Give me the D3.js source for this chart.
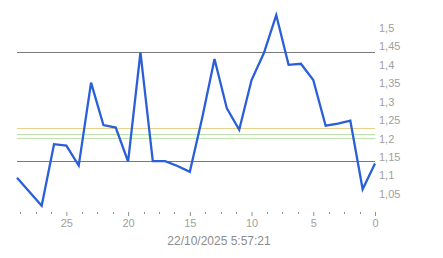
<!DOCTYPE html>
<html>
<head>
<meta charset="utf-8">
<script src="https://cdn.jsdelivr.net/npm/d3@7"></script>
<style>
  body { margin: 0; background: #fff; }
  svg text { font-family: "Liberation Sans", Arial, sans-serif; font-size: 11px; fill: #a0a0a0; }
</style>
</head>
<body>
<svg id="chart"></svg>
<script>
// data, oldest first (29 periods ago -> now)
let periods = [29, 28, 27, 26, 25, 24, 23, 22, 21, 20, 19, 18, 17, 16, 15, 14, 13, 12, 11, 10, 9, 8, 7, 6, 5, 4, 3, 2, 1, 0]
let values = [1.094, 1.056, 1.018, 1.185, 1.181, 1.127, 1.352, 1.237, 1.230, 1.138,
              1.434, 1.139, 1.139, 1.126, 1.110, 1.256, 1.416, 1.282, 1.224, 1.359,
              1.432, 1.535, 1.400, 1.403, 1.359, 1.235, 1.241, 1.249, 1.063, 1.133]

let yTicks = [1.05, 1.1, 1.15, 1.2, 1.25, 1.3, 1.35, 1.4, 1.45, 1.5]
let xTicks = [25, 20, 15, 10, 5, 0]
let minorTicks = [28.75, 27.5, 26.25, 23.75, 22.5, 21.25, 18.75, 17.5, 16.25, 13.75, 12.5, 11.25, 8.75, 7.5, 6.25, 3.75, 2.5, 1.25]

// reference lines
let refLevels = [1.434, 1.139, 1.228, 1.212, 1.202]
let refColors = ['#7a7a7a', '#7a7a7a', '#e9d08c', '#bfe3ad', '#bfe3ad']

let stamp = '22/10/2025 5:57:21'

let W = 443, H = 258
let m = {left: 17, right: 68, top: 28, bottom: 64}

let xScale = d3.scaleLinear().domain([29, 0]).range([m.left, W - m.right])
let yScale = d3.scaleLinear().domain([1.5, 1.05]).range([m.top, H - m.bottom])

let svg = d3.select('#chart').attr('width', W).attr('height', H)

// horizontal levels
svg.selectAll('.ref')
    .data(refLevels)
  .enter().append('line')
    .attr('x1', m.left)
    .attr('x2', W - m.right)
    .attr('y1', d => Math.round(yScale(d)) + 0.5)
    .attr('y2', d => Math.round(yScale(d)) + 0.5)
    .attr('stroke', (d, i) => refColors[i])
    .attr('stroke-width', 1)

// price line
let line = d3.line()
    .x((d, i) => xScale(periods[i]))
    .y(d => yScale(d))

svg.append('path')
    .datum(values)
    .attr('d', line)
    .attr('fill', 'none')
    .attr('stroke', '#2a5fd8')
    .attr('stroke-width', 2.3)
    .attr('stroke-linejoin', 'miter')

// y labels on the right
svg.selectAll('.ylab')
    .data(yTicks)
  .enter().append('text')
    .attr('x', W - m.right + 4)
    .attr('y', d => yScale(d))
    .attr('dy', '0.35em')
    .text(d => d3.format('.2~f')(d).replace('.', ','))

// x axis: ticks only, no domain line
let xAxis = d3.axisBottom(xScale).tickValues(xTicks).tickSize(4).tickPadding(3)
let gx = svg.append('g')
    .attr('transform', `translate(0, ${H - m.bottom + 18})`)
    .call(xAxis)
gx.select('.domain').remove()
gx.selectAll('line').attr('stroke', '#909090')
gx.selectAll('text').attr('fill', '#a0a0a0').style('font-size', '11px')
    .style('font-family', '"Liberation Sans", Arial, sans-serif')

svg.selectAll('.minor')
    .data(minorTicks)
  .enter().append('line')
    .attr('x1', d => Math.round(xScale(d)) + 0.5)
    .attr('x2', d => Math.round(xScale(d)) + 0.5)
    .attr('y1', H - m.bottom + 18)
    .attr('y2', H - m.bottom + 20)
    .attr('stroke', '#909090')

svg.append('text')
    .attr('x', 219)
    .attr('y', 241)
    .attr('dy', '0.35em')
    .attr('text-anchor', 'middle')
    .style('font-size', '12px')
    .style('fill', '#8c8c8c')
    .text(stamp)
</script>
</body>
</html>
